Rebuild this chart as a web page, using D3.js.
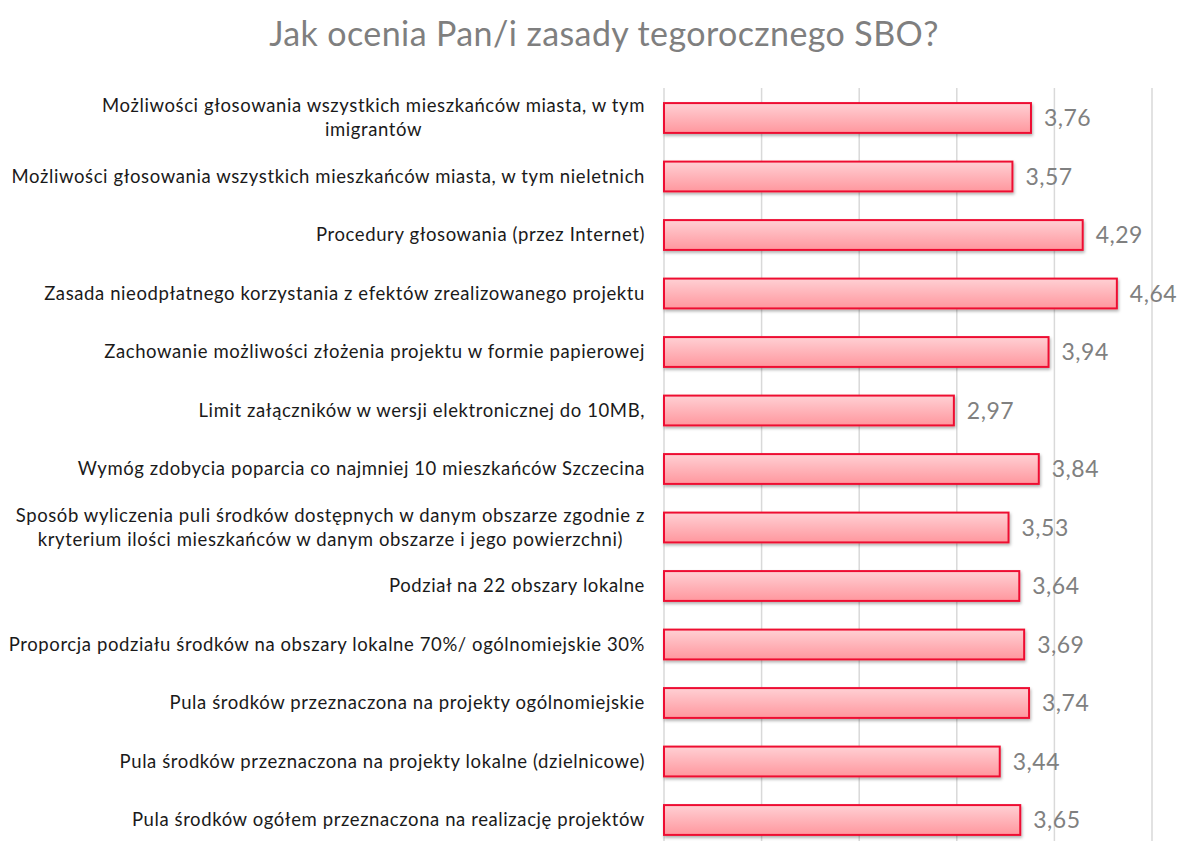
<!DOCTYPE html>
<html>
<head>
<meta charset="utf-8">
<script src="https://cdn.jsdelivr.net/npm/d3@7"></script>
<style>
  body { margin: 0; background: #fff; }
  svg { display: block; }
</style>
</head>
<body>
<script>
const width = 1185,
  height = 841;

const title = "Jak ocenia Pan/i zasady tegorocznego SBO?";

// each label as lines
const categories = [
  ["Możliwości głosowania wszystkich mieszkańców miasta, w tym", "imigrantów"],
  ["Możliwości głosowania wszystkich mieszkańców miasta, w tym nieletnich"],
  ["Procedury głosowania (przez Internet)"],
  ["Zasada nieodpłatnego korzystania z efektów zrealizowanego projektu"],
  ["Zachowanie możliwości złożenia projektu w formie papierowej"],
  ["Limit załączników w wersji elektronicznej do 10MB,"],
  ["Wymóg zdobycia poparcia co najmniej 10 mieszkańców Szczecina"],
  ["Sposób wyliczenia puli środków dostępnych w danym obszarze zgodnie z", "kryterium ilości mieszkańców w danym obszarze i jego powierzchni)"],
  ["Podział na 22 obszary lokalne"],
  ["Proporcja podziału środków na obszary lokalne 70%/ ogólnomiejskie 30%"],
  ["Pula środków przeznaczona na projekty ogólnomiejskie"],
  ["Pula środków przeznaczona na projekty lokalne (dzielnicowe)"],
  ["Pula środków ogółem przeznaczona na realizację projektów"],
];
const values = [3.76, 3.57, 4.29, 4.64, 3.94, 2.97, 3.84, 3.53, 3.64, 3.69, 3.74, 3.44, 3.65];
const xTicks = [0, 1, 2, 3, 4, 5];

const data = categories.map((c, i) => ({ key: i, lines: c, value: values[i] }));

const svg = d3
  .select("body")
  .append("svg")
  .attr("width", width)
  .attr("height", height);

const defs = svg.append("defs");
const grad = defs
  .append("linearGradient")
  .attr("id", "barGrad")
  .attr("x1", 0)
  .attr("y1", 0)
  .attr("x2", 0)
  .attr("y2", 1);
grad.append("stop").attr("offset", "0%").attr("stop-color", "#ffd0d4");
grad.append("stop").attr("offset", "100%").attr("stop-color", "#ff979e");

defs
  .append("filter")
  .attr("id", "shadow")
  .attr("x", "-5%")
  .attr("y", "-30%")
  .attr("width", "110%")
  .attr("height", "170%")
  .append("feDropShadow")
  .attr("dx", 1)
  .attr("dy", 2)
  .attr("stdDeviation", 1.5)
  .attr("flood-color", "#000")
  .attr("flood-opacity", 0.3);

// title
svg
  .append("text")
  .attr("x", 604)
  .attr("y", 46)
  .attr("text-anchor", "middle")
  .attr("font-family", "Lato, 'Open Sans', sans-serif")
  .attr("font-size", 34)
  .attr("letter-spacing", 0.4)
  .attr("fill", "#7f7f7f")
  .text(title);

// scales
const xScale = d3.scaleLinear().domain([0, 5]).range([664, 1152]);
const yScale = d3
  .scaleBand()
  .domain(data.map((d) => d.key))
  .range([88.75, 849.25])
  .paddingInner(0.49)
  .paddingOuter(0.245);

// grid
svg
  .append("g")
  .selectAll("line")
  .data(xTicks)
  .enter()
  .append("line")
  .attr("x1", (d) => xScale(d))
  .attr("x2", (d) => xScale(d))
  .attr("y1", 88)
  .attr("y2", height)
  .attr("stroke", "#d9d9d9")
  .attr("stroke-width", 1.5);

// bars
svg
  .append("g")
  .selectAll("rect")
  .data(data)
  .enter()
  .append("rect")
  .attr("x", xScale(0))
  .attr("y", (d) => yScale(d.key))
  .attr("width", (d) => xScale(d.value) - xScale(0))
  .attr("height", yScale.bandwidth())
  .attr("fill", "url(#barGrad)")
  .attr("stroke", "#ee1133")
  .attr("stroke-width", 2)
  .attr("filter", "url(#shadow)");

// value labels
const fmt = (v) => d3.format(".2f")(v).replace(".", ",");
svg
  .append("g")
  .selectAll("text")
  .data(data)
  .enter()
  .append("text")
  .attr("x", (d) => xScale(d.value) + 13)
  .attr("y", (d) => yScale(d.key) + yScale.bandwidth() / 2)
  .attr("dy", "0.36em")
  .attr("font-family", "Lato, 'Open Sans', sans-serif")
  .attr("font-size", 23)
  .attr("letter-spacing", 0.5)
  .attr("fill", "#808080")
  .text((d) => fmt(d.value));

// category labels (multi-line centred, block right-aligned)
const labelRight = 645,
  lineH = 24;
const labels = svg
  .append("g")
  .attr("font-family", "Lato, 'Open Sans', sans-serif")
  .attr("font-size", 18.5)
  .attr("letter-spacing", 0.6)
  .attr("fill", "#1a1a1a");

data.forEach((d) => {
  const g = labels.append("g");
  const cy = yScale(d.key) + yScale.bandwidth() / 2;
  const n = d.lines.length;
  const texts = d.lines.map((line, i) =>
    g
      .append("text")
      .attr("y", cy + (i - (n - 1) / 2) * lineH)
      .attr("dy", "0.35em")
      .attr("text-anchor", "middle")
      .text(line)
  );
  const maxW = d3.max(texts, (t) => t.node().getComputedTextLength());
  texts.forEach((t) => t.attr("x", labelRight - maxW / 2));
});
</script>
</body>
</html>
